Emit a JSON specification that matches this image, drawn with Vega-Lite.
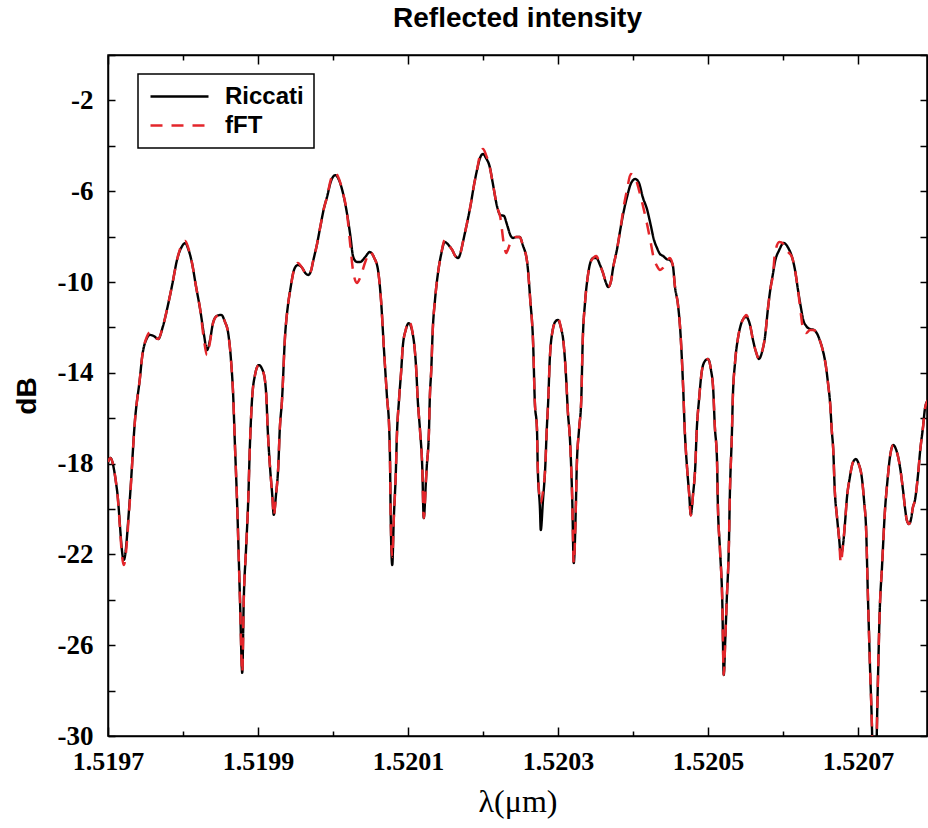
{
  "$schema": "https://vega.github.io/schema/vega-lite/v6.json",
  "width": 819,
  "height": 681,
  "autosize": {"type": "none"},
  "padding": {"left": 108, "top": 55, "right": 1, "bottom": 92},
  "background": "white",
  "title": {"text": "Reflected intensity", "font": "Liberation Sans", "fontSize": 28, "fontWeight": "bold", "color": "black", "anchor": "middle", "baseline": "bottom", "offset": 20, "dy": 40},
  "data": {"values": [
    {"lambda": 1.519700, "Riccati": -17.93, "fFT": -17.93},
    {"lambda": 1.519703, "Riccati": -17.75, "fFT": -17.75},
    {"lambda": 1.519712, "Riccati": -19.16, "fFT": -19.16},
    {"lambda": 1.519721, "Riccati": -22.25, "fFT": -22.47},
    {"lambda": 1.519729, "Riccati": -19.60, "fFT": -19.70},
    {"lambda": 1.519736, "Riccati": -16.08, "fFT": -16.08},
    {"lambda": 1.519743, "Riccati": -14.10, "fFT": -14.10},
    {"lambda": 1.519745, "Riccati": -13.44, "fFT": -13.44},
    {"lambda": 1.519752, "Riccati": -12.47, "fFT": -12.40},
    {"lambda": 1.519756, "Riccati": -12.33, "fFT": -12.22},
    {"lambda": 1.519761, "Riccati": -12.38, "fFT": -12.38},
    {"lambda": 1.519767, "Riccati": -12.51, "fFT": -12.51},
    {"lambda": 1.519773, "Riccati": -11.98, "fFT": -11.98},
    {"lambda": 1.519780, "Riccati": -11.01, "fFT": -11.01},
    {"lambda": 1.519785, "Riccati": -10.22, "fFT": -10.22},
    {"lambda": 1.519793, "Riccati": -8.90, "fFT": -8.90},
    {"lambda": 1.519799, "Riccati": -8.41, "fFT": -8.30},
    {"lambda": 1.519803, "Riccati": -8.28, "fFT": -8.19},
    {"lambda": 1.519807, "Riccati": -8.55, "fFT": -8.50},
    {"lambda": 1.519812, "Riccati": -9.16, "fFT": -9.16},
    {"lambda": 1.519817, "Riccati": -10.13, "fFT": -10.13},
    {"lambda": 1.519823, "Riccati": -11.23, "fFT": -11.23},
    {"lambda": 1.519828, "Riccati": -12.33, "fFT": -12.56},
    {"lambda": 1.519832, "Riccati": -13.00, "fFT": -13.22},
    {"lambda": 1.519836, "Riccati": -12.56, "fFT": -12.64},
    {"lambda": 1.519840, "Riccati": -11.81, "fFT": -11.81},
    {"lambda": 1.519845, "Riccati": -11.50, "fFT": -11.50},
    {"lambda": 1.519851, "Riccati": -11.45, "fFT": -11.45},
    {"lambda": 1.519856, "Riccati": -11.76, "fFT": -11.76},
    {"lambda": 1.519860, "Riccati": -12.20, "fFT": -12.20},
    {"lambda": 1.519864, "Riccati": -13.44, "fFT": -13.44},
    {"lambda": 1.519867, "Riccati": -15.07, "fFT": -15.07},
    {"lambda": 1.519869, "Riccati": -16.96, "fFT": -16.96},
    {"lambda": 1.519872, "Riccati": -19.60, "fFT": -19.60},
    {"lambda": 1.519876, "Riccati": -24.01, "fFT": -24.01},
    {"lambda": 1.519879, "Riccati": -27.22, "fFT": -27.22},
    {"lambda": 1.519881, "Riccati": -24.01, "fFT": -24.01},
    {"lambda": 1.519884, "Riccati": -21.81, "fFT": -21.81},
    {"lambda": 1.519887, "Riccati": -19.60, "fFT": -19.60},
    {"lambda": 1.519889, "Riccati": -17.40, "fFT": -17.40},
    {"lambda": 1.519892, "Riccati": -15.20, "fFT": -15.20},
    {"lambda": 1.519896, "Riccati": -14.10, "fFT": -14.10},
    {"lambda": 1.519901, "Riccati": -13.66, "fFT": -13.66},
    {"lambda": 1.519907, "Riccati": -13.96, "fFT": -13.96},
    {"lambda": 1.519911, "Riccati": -14.98, "fFT": -14.98},
    {"lambda": 1.519913, "Riccati": -16.52, "fFT": -16.52},
    {"lambda": 1.519916, "Riccati": -18.15, "fFT": -18.15},
    {"lambda": 1.519919, "Riccati": -19.38, "fFT": -19.38},
    {"lambda": 1.519921, "Riccati": -20.26, "fFT": -20.30},
    {"lambda": 1.519924, "Riccati": -19.38, "fFT": -19.38},
    {"lambda": 1.519927, "Riccati": -18.15, "fFT": -18.15},
    {"lambda": 1.519929, "Riccati": -16.52, "fFT": -16.52},
    {"lambda": 1.519932, "Riccati": -15.20, "fFT": -15.20},
    {"lambda": 1.519936, "Riccati": -12.42, "fFT": -12.42},
    {"lambda": 1.519940, "Riccati": -11.01, "fFT": -11.01},
    {"lambda": 1.519943, "Riccati": -10.35, "fFT": -10.35},
    {"lambda": 1.519948, "Riccati": -9.47, "fFT": -9.47},
    {"lambda": 1.519953, "Riccati": -9.25, "fFT": -9.16},
    {"lambda": 1.519959, "Riccati": -9.38, "fFT": -9.38},
    {"lambda": 1.519963, "Riccati": -9.60, "fFT": -9.60},
    {"lambda": 1.519967, "Riccati": -9.69, "fFT": -9.69},
    {"lambda": 1.519971, "Riccati": -9.47, "fFT": -9.47},
    {"lambda": 1.519973, "Riccati": -9.16, "fFT": -9.16},
    {"lambda": 1.519979, "Riccati": -8.28, "fFT": -8.28},
    {"lambda": 1.519983, "Riccati": -7.58, "fFT": -7.58},
    {"lambda": 1.519988, "Riccati": -6.74, "fFT": -6.74},
    {"lambda": 1.519992, "Riccati": -6.26, "fFT": -6.26},
    {"lambda": 1.519997, "Riccati": -5.59, "fFT": -5.50},
    {"lambda": 1.520003, "Riccati": -5.29, "fFT": -5.20},
    {"lambda": 1.520008, "Riccati": -5.51, "fFT": -5.46},
    {"lambda": 1.520013, "Riccati": -6.04, "fFT": -6.04},
    {"lambda": 1.520019, "Riccati": -7.05, "fFT": -7.05},
    {"lambda": 1.520023, "Riccati": -7.93, "fFT": -8.37},
    {"lambda": 1.520027, "Riccati": -8.90, "fFT": -9.56},
    {"lambda": 1.520032, "Riccati": -9.12, "fFT": -10.04},
    {"lambda": 1.520036, "Riccati": -9.12, "fFT": -9.82},
    {"lambda": 1.520043, "Riccati": -8.90, "fFT": -9.12},
    {"lambda": 1.520049, "Riccati": -8.68, "fFT": -8.68},
    {"lambda": 1.520055, "Riccati": -8.94, "fFT": -8.94},
    {"lambda": 1.520060, "Riccati": -9.47, "fFT": -9.47},
    {"lambda": 1.520064, "Riccati": -10.79, "fFT": -10.79},
    {"lambda": 1.520068, "Riccati": -13.00, "fFT": -13.00},
    {"lambda": 1.520072, "Riccati": -15.07, "fFT": -15.07},
    {"lambda": 1.520075, "Riccati": -16.52, "fFT": -16.52},
    {"lambda": 1.520076, "Riccati": -17.84, "fFT": -17.84},
    {"lambda": 1.520077, "Riccati": -20.48, "fFT": -20.48},
    {"lambda": 1.520079, "Riccati": -22.47, "fFT": -22.11},
    {"lambda": 1.520081, "Riccati": -20.48, "fFT": -20.48},
    {"lambda": 1.520084, "Riccati": -18.15, "fFT": -18.15},
    {"lambda": 1.520085, "Riccati": -16.96, "fFT": -16.96},
    {"lambda": 1.520088, "Riccati": -15.20, "fFT": -15.20},
    {"lambda": 1.520091, "Riccati": -13.88, "fFT": -13.88},
    {"lambda": 1.520093, "Riccati": -12.86, "fFT": -12.86},
    {"lambda": 1.520097, "Riccati": -12.11, "fFT": -12.11},
    {"lambda": 1.520101, "Riccati": -11.81, "fFT": -11.72},
    {"lambda": 1.520107, "Riccati": -12.42, "fFT": -12.42},
    {"lambda": 1.520111, "Riccati": -13.88, "fFT": -13.88},
    {"lambda": 1.520113, "Riccati": -15.20, "fFT": -15.20},
    {"lambda": 1.520116, "Riccati": -16.52, "fFT": -16.52},
    {"lambda": 1.520119, "Riccati": -18.15, "fFT": -18.15},
    {"lambda": 1.520121, "Riccati": -20.40, "fFT": -20.40},
    {"lambda": 1.520124, "Riccati": -18.72, "fFT": -18.72},
    {"lambda": 1.520125, "Riccati": -18.15, "fFT": -18.15},
    {"lambda": 1.520128, "Riccati": -16.52, "fFT": -16.52},
    {"lambda": 1.520129, "Riccati": -15.20, "fFT": -15.20},
    {"lambda": 1.520131, "Riccati": -13.88, "fFT": -13.88},
    {"lambda": 1.520133, "Riccati": -12.11, "fFT": -12.11},
    {"lambda": 1.520136, "Riccati": -10.79, "fFT": -10.79},
    {"lambda": 1.520140, "Riccati": -9.60, "fFT": -9.60},
    {"lambda": 1.520144, "Riccati": -8.81, "fFT": -8.81},
    {"lambda": 1.520149, "Riccati": -8.24, "fFT": -8.15},
    {"lambda": 1.520155, "Riccati": -8.41, "fFT": -8.41},
    {"lambda": 1.520159, "Riccati": -8.59, "fFT": -8.59},
    {"lambda": 1.520163, "Riccati": -8.85, "fFT": -8.85},
    {"lambda": 1.520167, "Riccati": -8.94, "fFT": -8.94},
    {"lambda": 1.520171, "Riccati": -8.59, "fFT": -8.59},
    {"lambda": 1.520173, "Riccati": -8.28, "fFT": -8.28},
    {"lambda": 1.520179, "Riccati": -7.36, "fFT": -7.36},
    {"lambda": 1.520183, "Riccati": -6.70, "fFT": -6.70},
    {"lambda": 1.520188, "Riccati": -5.73, "fFT": -5.73},
    {"lambda": 1.520192, "Riccati": -5.07, "fFT": -5.07},
    {"lambda": 1.520196, "Riccati": -4.54, "fFT": -4.40},
    {"lambda": 1.520200, "Riccati": -4.36, "fFT": -4.14},
    {"lambda": 1.520204, "Riccati": -4.54, "fFT": -4.40},
    {"lambda": 1.520209, "Riccati": -4.93, "fFT": -4.93},
    {"lambda": 1.520213, "Riccati": -5.64, "fFT": -5.64},
    {"lambda": 1.520219, "Riccati": -6.70, "fFT": -6.70},
    {"lambda": 1.520223, "Riccati": -7.05, "fFT": -7.14},
    {"lambda": 1.520228, "Riccati": -7.09, "fFT": -8.37},
    {"lambda": 1.520231, "Riccati": -7.36, "fFT": -8.72},
    {"lambda": 1.520233, "Riccati": -7.58, "fFT": -8.59},
    {"lambda": 1.520237, "Riccati": -7.97, "fFT": -8.24},
    {"lambda": 1.520240, "Riccati": -8.06, "fFT": -8.15},
    {"lambda": 1.520244, "Riccati": -8.02, "fFT": -8.02},
    {"lambda": 1.520249, "Riccati": -8.02, "fFT": -8.02},
    {"lambda": 1.520253, "Riccati": -8.37, "fFT": -8.37},
    {"lambda": 1.520259, "Riccati": -9.16, "fFT": -9.16},
    {"lambda": 1.520263, "Riccati": -10.79, "fFT": -10.79},
    {"lambda": 1.520267, "Riccati": -12.86, "fFT": -12.86},
    {"lambda": 1.520269, "Riccati": -15.20, "fFT": -15.20},
    {"lambda": 1.520272, "Riccati": -16.52, "fFT": -16.52},
    {"lambda": 1.520273, "Riccati": -18.15, "fFT": -18.15},
    {"lambda": 1.520276, "Riccati": -20.04, "fFT": -19.60},
    {"lambda": 1.520277, "Riccati": -20.93, "fFT": -19.74},
    {"lambda": 1.520280, "Riccati": -19.60, "fFT": -19.20},
    {"lambda": 1.520283, "Riccati": -18.15, "fFT": -18.15},
    {"lambda": 1.520285, "Riccati": -16.52, "fFT": -16.52},
    {"lambda": 1.520287, "Riccati": -15.20, "fFT": -15.20},
    {"lambda": 1.520289, "Riccati": -13.44, "fFT": -13.44},
    {"lambda": 1.520293, "Riccati": -12.11, "fFT": -12.11},
    {"lambda": 1.520297, "Riccati": -11.72, "fFT": -11.72},
    {"lambda": 1.520300, "Riccati": -11.67, "fFT": -11.60},
    {"lambda": 1.520304, "Riccati": -12.03, "fFT": -12.03},
    {"lambda": 1.520307, "Riccati": -12.56, "fFT": -12.56},
    {"lambda": 1.520311, "Riccati": -14.32, "fFT": -14.32},
    {"lambda": 1.520313, "Riccati": -15.64, "fFT": -15.64},
    {"lambda": 1.520316, "Riccati": -16.96, "fFT": -16.96},
    {"lambda": 1.520319, "Riccati": -19.60, "fFT": -19.60},
    {"lambda": 1.520321, "Riccati": -22.38, "fFT": -22.38},
    {"lambda": 1.520324, "Riccati": -19.60, "fFT": -19.60},
    {"lambda": 1.520325, "Riccati": -18.15, "fFT": -18.15},
    {"lambda": 1.520328, "Riccati": -16.52, "fFT": -16.52},
    {"lambda": 1.520331, "Riccati": -15.20, "fFT": -15.20},
    {"lambda": 1.520333, "Riccati": -12.56, "fFT": -12.56},
    {"lambda": 1.520336, "Riccati": -10.93, "fFT": -10.93},
    {"lambda": 1.520340, "Riccati": -9.69, "fFT": -9.69},
    {"lambda": 1.520343, "Riccati": -9.16, "fFT": -9.16},
    {"lambda": 1.520347, "Riccati": -8.94, "fFT": -8.94},
    {"lambda": 1.520351, "Riccati": -8.94, "fFT": -8.85},
    {"lambda": 1.520356, "Riccati": -9.25, "fFT": -9.25},
    {"lambda": 1.520360, "Riccati": -9.60, "fFT": -9.60},
    {"lambda": 1.520364, "Riccati": -10.04, "fFT": -10.04},
    {"lambda": 1.520367, "Riccati": -10.22, "fFT": -10.22},
    {"lambda": 1.520371, "Riccati": -9.91, "fFT": -9.91},
    {"lambda": 1.520373, "Riccati": -9.47, "fFT": -9.47},
    {"lambda": 1.520379, "Riccati": -8.50, "fFT": -8.50},
    {"lambda": 1.520383, "Riccati": -7.71, "fFT": -7.71},
    {"lambda": 1.520388, "Riccati": -6.83, "fFT": -6.61},
    {"lambda": 1.520392, "Riccati": -6.26, "fFT": -5.95},
    {"lambda": 1.520397, "Riccati": -5.68, "fFT": -5.24},
    {"lambda": 1.520403, "Riccati": -5.46, "fFT": -5.42},
    {"lambda": 1.520408, "Riccati": -5.64, "fFT": -5.95},
    {"lambda": 1.520413, "Riccati": -6.26, "fFT": -6.61},
    {"lambda": 1.520419, "Riccati": -6.83, "fFT": -7.49},
    {"lambda": 1.520423, "Riccati": -7.40, "fFT": -8.15},
    {"lambda": 1.520428, "Riccati": -8.15, "fFT": -8.99},
    {"lambda": 1.520432, "Riccati": -8.50, "fFT": -9.30},
    {"lambda": 1.520436, "Riccati": -8.77, "fFT": -9.47},
    {"lambda": 1.520440, "Riccati": -8.85, "fFT": -9.38},
    {"lambda": 1.520445, "Riccati": -8.99, "fFT": -9.12},
    {"lambda": 1.520449, "Riccati": -9.03, "fFT": -8.94},
    {"lambda": 1.520453, "Riccati": -9.25, "fFT": -9.25},
    {"lambda": 1.520456, "Riccati": -10.22, "fFT": -10.22},
    {"lambda": 1.520460, "Riccati": -11.01, "fFT": -11.01},
    {"lambda": 1.520463, "Riccati": -12.11, "fFT": -12.11},
    {"lambda": 1.520467, "Riccati": -14.76, "fFT": -14.76},
    {"lambda": 1.520469, "Riccati": -16.52, "fFT": -16.52},
    {"lambda": 1.520472, "Riccati": -18.15, "fFT": -18.15},
    {"lambda": 1.520475, "Riccati": -19.38, "fFT": -19.38},
    {"lambda": 1.520477, "Riccati": -20.26, "fFT": -20.30},
    {"lambda": 1.520480, "Riccati": -19.38, "fFT": -19.38},
    {"lambda": 1.520483, "Riccati": -18.15, "fFT": -18.15},
    {"lambda": 1.520485, "Riccati": -16.52, "fFT": -16.52},
    {"lambda": 1.520488, "Riccati": -15.20, "fFT": -15.20},
    {"lambda": 1.520492, "Riccati": -13.88, "fFT": -13.88},
    {"lambda": 1.520496, "Riccati": -13.48, "fFT": -13.48},
    {"lambda": 1.520500, "Riccati": -13.39, "fFT": -13.39},
    {"lambda": 1.520504, "Riccati": -13.88, "fFT": -13.88},
    {"lambda": 1.520507, "Riccati": -14.76, "fFT": -14.76},
    {"lambda": 1.520509, "Riccati": -16.30, "fFT": -16.30},
    {"lambda": 1.520512, "Riccati": -17.84, "fFT": -17.84},
    {"lambda": 1.520513, "Riccati": -19.60, "fFT": -19.60},
    {"lambda": 1.520516, "Riccati": -21.81, "fFT": -21.81},
    {"lambda": 1.520519, "Riccati": -24.01, "fFT": -24.01},
    {"lambda": 1.520521, "Riccati": -27.31, "fFT": -27.31},
    {"lambda": 1.520523, "Riccati": -25.77, "fFT": -25.77},
    {"lambda": 1.520525, "Riccati": -24.01, "fFT": -24.01},
    {"lambda": 1.520528, "Riccati": -21.37, "fFT": -21.37},
    {"lambda": 1.520529, "Riccati": -19.60, "fFT": -19.60},
    {"lambda": 1.520532, "Riccati": -16.52, "fFT": -16.52},
    {"lambda": 1.520533, "Riccati": -15.20, "fFT": -15.20},
    {"lambda": 1.520536, "Riccati": -13.57, "fFT": -13.57},
    {"lambda": 1.520540, "Riccati": -12.47, "fFT": -12.47},
    {"lambda": 1.520543, "Riccati": -11.98, "fFT": -11.98},
    {"lambda": 1.520547, "Riccati": -11.63, "fFT": -11.63},
    {"lambda": 1.520551, "Riccati": -11.54, "fFT": -11.45},
    {"lambda": 1.520556, "Riccati": -11.89, "fFT": -11.89},
    {"lambda": 1.520560, "Riccati": -12.56, "fFT": -12.56},
    {"lambda": 1.520564, "Riccati": -13.08, "fFT": -13.08},
    {"lambda": 1.520568, "Riccati": -13.39, "fFT": -13.39},
    {"lambda": 1.520572, "Riccati": -13.08, "fFT": -13.08},
    {"lambda": 1.520576, "Riccati": -12.42, "fFT": -12.42},
    {"lambda": 1.520580, "Riccati": -11.15, "fFT": -11.15},
    {"lambda": 1.520583, "Riccati": -10.35, "fFT": -10.35},
    {"lambda": 1.520587, "Riccati": -9.56, "fFT": -9.56},
    {"lambda": 1.520589, "Riccati": -9.16, "fFT": -8.81},
    {"lambda": 1.520595, "Riccati": -8.59, "fFT": -8.24},
    {"lambda": 1.520601, "Riccati": -8.28, "fFT": -8.33},
    {"lambda": 1.520607, "Riccati": -8.50, "fFT": -8.68},
    {"lambda": 1.520612, "Riccati": -8.90, "fFT": -8.90},
    {"lambda": 1.520616, "Riccati": -9.47, "fFT": -9.47},
    {"lambda": 1.520620, "Riccati": -10.35, "fFT": -10.35},
    {"lambda": 1.520624, "Riccati": -11.15, "fFT": -11.45},
    {"lambda": 1.520627, "Riccati": -11.67, "fFT": -12.11},
    {"lambda": 1.520631, "Riccati": -11.94, "fFT": -12.25},
    {"lambda": 1.520636, "Riccati": -12.07, "fFT": -12.11},
    {"lambda": 1.520641, "Riccati": -12.11, "fFT": -12.11},
    {"lambda": 1.520645, "Riccati": -12.25, "fFT": -12.25},
    {"lambda": 1.520649, "Riccati": -12.56, "fFT": -12.56},
    {"lambda": 1.520653, "Riccati": -13.00, "fFT": -13.00},
    {"lambda": 1.520657, "Riccati": -13.66, "fFT": -13.66},
    {"lambda": 1.520660, "Riccati": -14.45, "fFT": -14.45},
    {"lambda": 1.520663, "Riccati": -15.42, "fFT": -15.42},
    {"lambda": 1.520665, "Riccati": -16.52, "fFT": -16.52},
    {"lambda": 1.520667, "Riccati": -17.40, "fFT": -17.40},
    {"lambda": 1.520669, "Riccati": -19.16, "fFT": -19.16},
    {"lambda": 1.520672, "Riccati": -20.35, "fFT": -20.35},
    {"lambda": 1.520675, "Riccati": -21.37, "fFT": -21.37},
    {"lambda": 1.520677, "Riccati": -22.03, "fFT": -22.38},
    {"lambda": 1.520680, "Riccati": -21.59, "fFT": -21.59},
    {"lambda": 1.520683, "Riccati": -20.48, "fFT": -20.48},
    {"lambda": 1.520685, "Riccati": -19.60, "fFT": -19.60},
    {"lambda": 1.520689, "Riccati": -18.63, "fFT": -18.63},
    {"lambda": 1.520693, "Riccati": -17.97, "fFT": -17.97},
    {"lambda": 1.520697, "Riccati": -17.80, "fFT": -17.80},
    {"lambda": 1.520701, "Riccati": -18.02, "fFT": -18.02},
    {"lambda": 1.520705, "Riccati": -18.59, "fFT": -18.59},
    {"lambda": 1.520708, "Riccati": -19.60, "fFT": -19.60},
    {"lambda": 1.520711, "Riccati": -21.06, "fFT": -21.06},
    {"lambda": 1.520713, "Riccati": -23.57, "fFT": -23.57},
    {"lambda": 1.520716, "Riccati": -26.96, "fFT": -26.96},
    {"lambda": 1.520719, "Riccati": -30.18, "fFT": -30.18},
    {"lambda": 1.520721, "Riccati": -34.00, "fFT": -34.00},
    {"lambda": 1.520724, "Riccati": -32.00, "fFT": -32.00},
    {"lambda": 1.520725, "Riccati": -30.00, "fFT": -30.00},
    {"lambda": 1.520727, "Riccati": -26.96, "fFT": -26.96},
    {"lambda": 1.520729, "Riccati": -24.45, "fFT": -24.45},
    {"lambda": 1.520732, "Riccati": -22.56, "fFT": -22.56},
    {"lambda": 1.520736, "Riccati": -20.04, "fFT": -20.04},
    {"lambda": 1.520739, "Riccati": -18.85, "fFT": -18.85},
    {"lambda": 1.520743, "Riccati": -17.62, "fFT": -17.62},
    {"lambda": 1.520747, "Riccati": -17.18, "fFT": -17.18},
    {"lambda": 1.520751, "Riccati": -17.40, "fFT": -17.40},
    {"lambda": 1.520756, "Riccati": -18.15, "fFT": -18.15},
    {"lambda": 1.520760, "Riccati": -19.16, "fFT": -19.16},
    {"lambda": 1.520763, "Riccati": -20.04, "fFT": -20.04},
    {"lambda": 1.520765, "Riccati": -20.48, "fFT": -20.48},
    {"lambda": 1.520768, "Riccati": -20.66, "fFT": -20.66},
    {"lambda": 1.520771, "Riccati": -20.40, "fFT": -20.40},
    {"lambda": 1.520773, "Riccati": -19.96, "fFT": -19.96},
    {"lambda": 1.520776, "Riccati": -19.60, "fFT": -19.60},
    {"lambda": 1.520780, "Riccati": -18.50, "fFT": -18.50},
    {"lambda": 1.520783, "Riccati": -17.40, "fFT": -17.40},
    {"lambda": 1.520787, "Riccati": -16.30, "fFT": -16.30},
    {"lambda": 1.520789, "Riccati": -15.64, "fFT": -15.64},
    {"lambda": 1.520793, "Riccati": -15.20, "fFT": -15.20}
  ]},
  "transform": [{"fold": ["Riccati", "fFT"], "as": ["series", "dB"]}],
  "encoding": {
    "color": {"field": "series", "type": "nominal", "scale": {"domain": ["Riccati", "fFT"], "range": ["#000000", "#e3262b"]},
      "legend": {"title": null, "orient": "none", "legendX": 30, "legendY": 19}},
    "strokeDash": {"field": "series", "type": "nominal", "scale": {"domain": ["Riccati", "fFT"], "range": [[1, 0], [12, 9]]},
      "legend": {"title": null, "orient": "none", "legendX": 30, "legendY": 19}}
  },
  "layer": [
    {
      "transform": [{"filter": "datum.series == 'Riccati'"}],
      "mark": {"type": "line", "interpolate": "monotone", "strokeWidth": 2.4, "clip": true},
      "encoding": {
        "x": {"field": "lambda", "type": "quantitative",
          "scale": {"domain": [1.5197, 1.520792], "nice": false, "zero": false},
          "axis": {"orient": "bottom", "values": [1.5197, 1.5198, 1.5199, 1.52, 1.5201, 1.5202, 1.5203, 1.5204, 1.5205, 1.5206, 1.5207],
            "labelExpr": "round(datum.value * 10000) % 2 == 1 ? format(datum.value, '.4f') : ''",
            "tickSize": {"condition": {"test": "round(datum.value * 10000) % 2 == 1", "value": -9}, "value": -5},
            "labelPadding": 21, "labelFlush": false, "labelBound": false, "labelOverlap": false,
            "labelFont": "Liberation Serif", "labelFontWeight": "bold", "labelFontSize": 26,
            "title": "λ(μm)", "titleFont": "Liberation Serif", "titleFontWeight": "normal", "titleFontSize": 32, "titlePadding": 8}},
        "y": {"field": "dB", "type": "quantitative",
          "scale": {"domain": [-30, 0], "nice": false, "zero": false},
          "axis": {"orient": "left", "values": [-30, -28, -26, -24, -22, -20, -18, -16, -14, -12, -10, -8, -6, -4, -2, 0],
            "labelExpr": "datum.value % 4 == -2 ? '-' + abs(datum.value) : ''",
            "tickSize": -7, "labelPadding": 22, "labelOverlap": false,
            "labelFont": "Liberation Serif", "labelFontWeight": "bold", "labelFontSize": 27,
            "title": "dB", "titleFont": "Liberation Sans", "titleFontWeight": "bold", "titleFontSize": 28, "titlePadding": 16}}
      }
    },
    {
      "transform": [{"filter": "datum.series == 'fFT'"}],
      "mark": {"type": "line", "interpolate": "monotone", "strokeWidth": 2.5, "clip": true},
      "encoding": {
        "x": {"field": "lambda", "type": "quantitative",
          "scale": {"domain": [1.5197, 1.520792], "nice": false, "zero": false},
          "axis": {"orient": "top", "values": [1.5197, 1.5198, 1.5199, 1.52, 1.5201, 1.5202, 1.5203, 1.5204, 1.5205, 1.5206, 1.5207],
            "labels": false, "title": null,
            "tickSize": {"condition": {"test": "round(datum.value * 10000) % 2 == 1", "value": -9}, "value": -5}}},
        "y": {"field": "dB", "type": "quantitative",
          "scale": {"domain": [-30, 0], "nice": false, "zero": false},
          "axis": {"orient": "right", "values": [-30, -28, -26, -24, -22, -20, -18, -16, -14, -12, -10, -8, -6, -4, -2, 0],
            "labels": false, "title": null, "tickSize": -7}}
      }
    }
  ],
  "resolve": {"axis": {"x": "independent", "y": "independent"}},
  "config": {
    "view": {"stroke": "black", "strokeWidth": 1.5},
    "axis": {"grid": false, "domainColor": "black", "domainWidth": 1.5, "tickColor": "black", "tickWidth": 1.5, "labelColor": "black", "titleColor": "black"},
    "legend": {"symbolType": "stroke", "symbolSize": 3364, "symbolStrokeWidth": 2.4, "symbolOffset": 1, "clipHeight": 25, "labelFont": "Liberation Sans", "labelFontSize": 24, "labelFontWeight": "bold", "labelColor": "black", "strokeColor": "black", "strokeWidth": 1.5, "padding": 10, "labelOffset": 15, "rowPadding": 4}
  }
}
